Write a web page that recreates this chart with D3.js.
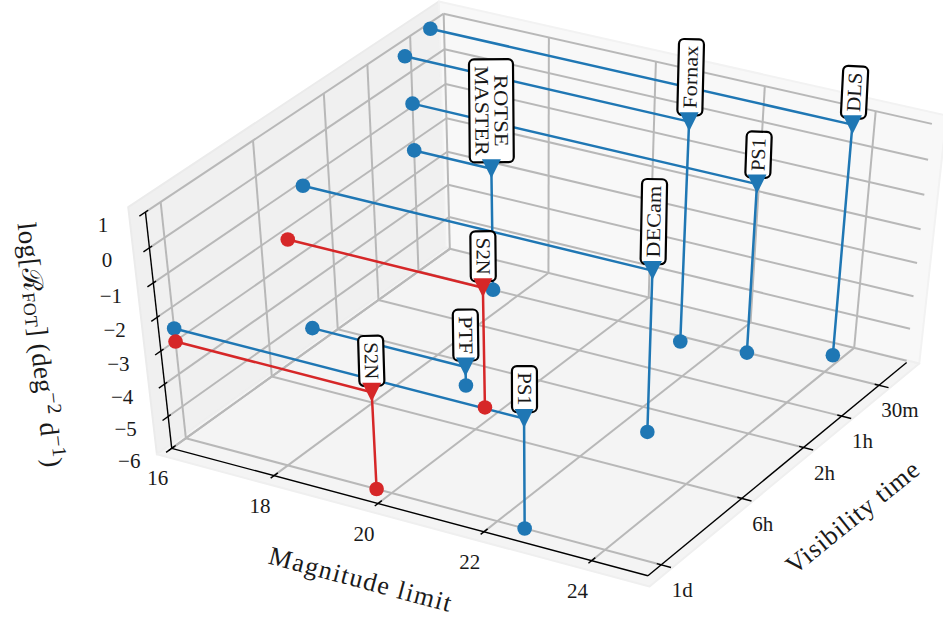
<!DOCTYPE html><html><head><meta charset="utf-8"><script src="https://cdn.jsdelivr.net/npm/d3@7"></script>
<style>body{margin:0;background:#fff}text{font-family:"Liberation Serif",serif;fill:#1a1a1a}</style></head><body><svg id="s" width="943" height="619"></svg>
<script>
// chart data
const surveys    = ["DLS","Fornax","PS1","ROTSE\nMASTER","DECam","PTF","PS1","S2N","S2N"];
const magLimit   = [23.82,21.32,22.51,17.51,22.52,19.02,22.51,19.72,19.71];
const visMinutes = [21.6,33,30,30,180,180,1440,240,1440];
const logRate    = [0.83,0.54,-0.92,-2.29,-1.13,-5.42,-2.63,-2.34,-3.02];
const groups     = ["blue","blue","blue","blue","blue","blue","blue","red","red"];
const reading    = ["up","up","up","down","up","down","down","down","down"];
const magTicks   = [16,18,20,22,24];
const visTicks   = [1440,360,120,60,30];
const visTickLabels = ["1d","6h","2h","1h","30m"];
const rateTicks  = [-6,-5,-4,-3,-2,-1,0,1];
const labelLengths = {DLS:39,Fornax:63,PS1:33,ROTSE:72,MASTER:90,DECam:72,S2N:37,PTF:38};
const colors = {blue:"#1f77b4",red:"#d62728"};

// scales from data to the unit cube
const sx = d3.scaleLinear().domain([16,25]).range([0,1]);
const sy = d3.scaleLog().domain([1440,17.27]).range([0,1]);
const sz = d3.scaleLinear().domain([-6,1]).range([0,1]);
// perspective camera of the 3D view
const P = [448.209,289.875,-35.828,185.852, 104.460,-175.033,-249.583,438.193, -0.038486,0.057567,-0.066059];
const cube = (u,v,w)=>{const n=P[8]*u+P[9]*v+P[10]*w+1;return [(P[0]*u+P[1]*v+P[2]*w+P[3])/n,(P[4]*u+P[5]*v+P[6]*w+P[7])/n];};
const uB=1.0035,vB=-0.0504,vE=0.9929;
const pane={u0:-0.024,u1:1.0158,v0:-0.0666,v1:1.0246,w0:-0.0257,w1:1.021};
const svg=d3.select("#s");
const line=d3.line();
const poly=pts=>line(pts.map(p=>cube(...p)))+"Z";

// panes
const panes=[
 {fill:"#f0f0f0",edge:"#ebebeb",pts:[[pane.u0,pane.v0,pane.w0],[pane.u0,pane.v1,pane.w0],[pane.u0,pane.v1,pane.w1],[pane.u0,pane.v0,pane.w1]]},
 {fill:"#f8f8f8",edge:"#f2f2f2",pts:[[pane.u0,pane.v1,pane.w0],[pane.u1,pane.v1,pane.w0],[pane.u1,pane.v1,pane.w1],[pane.u0,pane.v1,pane.w1]]},
 {fill:"#f4f4f4",edge:"#efefef",pts:[[pane.u0,pane.v0,pane.w0],[pane.u1,pane.v0,pane.w0],[pane.u1,pane.v1,pane.w0],[pane.u0,pane.v1,pane.w0]]}];
svg.append("g").selectAll("path").data(panes).join("path").attr("d",d=>poly(d.pts)).attr("fill",d=>d.fill).attr("stroke",d=>d.edge).attr("stroke-width",2).attr("stroke-linejoin","round");

// grid
const gridSegs=[];
magTicks.forEach(m=>{const u=sx(m);gridSegs.push([[u,vB,0],[u,1,0]],[[u,1,0],[u,1,1]]);});
visTicks.forEach(t=>{const v=sy(t);gridSegs.push([[0,v,0],[uB,v,0]],[[0,v,0],[0,v,1]]);});
rateTicks.forEach(r=>{const w=sz(r);gridSegs.push([[0,vB,w],[0,1,w]],[[0,1,w],[1,1,w]]);});
svg.append("g").selectAll("path").data(gridSegs).join("path").attr("d",d=>line(d.map(p=>cube(...p))))
  .attr("fill","none").attr("stroke","#b8b8b8").attr("stroke-width",2);

// axes
const axisSegs=[[[0,vB,0],[uB,vB,0]],[[uB,vB,0],[uB,vE,0]],[[0,vB,0],[0,vB,1]]];
magTicks.forEach(m=>axisSegs.push([[sx(m),vB-0.012,0],[sx(m),vB+0.014,0]]));
visTicks.forEach(t=>axisSegs.push([[uB-0.009,sy(t),0],[uB+0.020,sy(t),0]]));
rateTicks.forEach(r=>axisSegs.push([[0,vB-0.020,sz(r)],[0,vB+0.009,sz(r)]]));
svg.append("g").selectAll("path").data(axisSegs).join("path").attr("d",d=>line(d.map(p=>cube(...p))))
  .attr("fill","none").attr("stroke","#000").attr("stroke-width",1.4);

// tick labels
function tickText(p,str,dx,dy){svg.append("text").attr("x",p[0]+dx).attr("y",p[1]+dy).attr("dy","0.34em").attr("text-anchor","middle").attr("font-size",21).text(str);}
magTicks.forEach(m=>tickText(cube(sx(m),vB,0),m,-14,30));
visTicks.forEach((t,i)=>tickText(cube(uB,sy(t),0),visTickLabels[i],21,25));
rateTicks.forEach(r=>tickText(cube(0,vB,sz(r)),String(r).replace("-","\u2212"),-42.5,12.5));

// axis titles
svg.append("text").attr("transform","translate(360,580) rotate(15)").attr("text-anchor","middle").attr("dy","0.3em").attr("font-size",26)
  .attr("textLength",188).attr("lengthAdjust","spacing").text("Magnitude limit");
svg.append("text").attr("transform","translate(853,518) rotate(-39)").attr("text-anchor","middle").attr("dy","0.3em").attr("font-size",26)
  .attr("textLength",163).attr("lengthAdjust","spacing").text("Visibility time");
const zt=svg.append("text").attr("transform","translate(31,346) rotate(83.7)").attr("text-anchor","middle").attr("dy","0.3em").attr("letter-spacing",0.45);
[["log[ℛ",27,0],["FOT",18,3],["] (deg",27,-3],["\u22122",20,-10],[" d",27,10],["\u22121",20,-10],[")",27,10]]
  .forEach(([s,fs,dy])=>zt.append("tspan").attr("font-size",fs).attr("dy",dy).text(s));

// data marks
const rows=surveys.map((name,i)=>({name,g:groups[i],read:reading[i],u:sx(magLimit[i]),v:sy(visMinutes[i]),w:sz(logRate[i])}))
  .map(d=>Object.assign(d,{top:cube(d.u,d.v,d.w),floor:cube(d.u,d.v,0),wall:cube(0,d.v,d.w)}));
const layer=svg.append("g");
["blue","red"].forEach(g=>{
  const r=rows.filter(d=>d.g===g),c=layer.append("g");
  c.selectAll("path").data(r).join("path").attr("d",d=>line([d.wall,d.top,d.floor])).attr("fill","none").attr("stroke",colors[g]).attr("stroke-width",2.5);
  const dots=r.flatMap(d=>[d.wall,d.floor]);
  c.selectAll("circle").data(dots).join("circle").attr("cx",d=>d[0]).attr("cy",d=>d[1]).attr("r",7.3).attr("fill",colors[g]);
});
// annotation boxes
rows.forEach(d=>{
  const parts=d.name.split("\n");
  const len=d3.max(parts,p=>labelLengths[p]);
  const tilt=Math.atan2(d.top[0]-d.floor[0],d.floor[1]-d.top[1])*180/Math.PI*0.6;
  const up=d.read==="up";
  const b=svg.append("g").attr("transform",`translate(${d.top[0]+0.5},${d.top[1]}) rotate(${up?-90+tilt:90+tilt})`);
  const W=len+13,H=25+19*(parts.length-1),x0=up?6.5:-6.5-W;
  b.append("rect").attr("x",x0).attr("y",-H/2).attr("width",W).attr("height",H).attr("rx",5).attr("fill","#fff").attr("stroke","#000").attr("stroke-width",2.2);
  parts.forEach((p,i)=>b.append("text").attr("x",x0+W/2).attr("y",(i-(parts.length-1)/2)*19.3+6.5).attr("text-anchor","middle").attr("font-size",20)
     .attr("textLength",labelLengths[p]).attr("lengthAdjust","spacingAndGlyphs").text(p));
});
rows.forEach(d=>svg.append("path").attr("transform",`translate(${d.top[0]},${d.top[1]})`).attr("d","M-9.5,-9.5L9.5,-9.5L0,9.5Z").attr("fill",colors[d.g]));
</script></body></html>
